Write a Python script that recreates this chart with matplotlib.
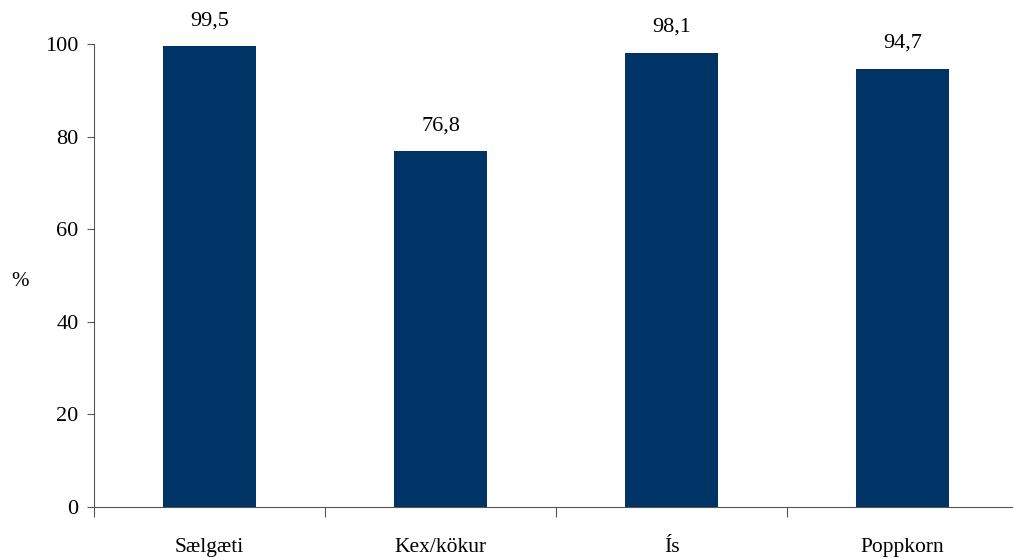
import matplotlib.pyplot as plt
from matplotlib.ticker import FixedLocator

flokkar = ["Sælgæti", "Kex/kökur", "Ís", "Poppkorn"]
hlutfall = [99.5, 76.8, 98.1, 94.7]
y_ticks = [0, 20, 40, 60, 80, 100]

plt.rcParams['font.family'] = ['Liberation Serif', 'DejaVu Serif']

fig = plt.figure(figsize=(10.13, 5.59), dpi=100)
ax = fig.add_axes([94 / 1013, 1 - 507 / 559, (1018 - 94) / 1013, (507 - 44) / 559])

x = range(len(flokkar))
bars = ax.bar(x, hlutfall, width=0.4, color='#003366', zorder=2)

for b, v in zip(bars, hlutfall):
    ax.text(b.get_x() + b.get_width() / 2, v + 3.5, f"{v:.1f}".replace('.', ','),
            ha='center', va='bottom', fontsize=16)

ax.set_xlim(-0.5, len(flokkar) - 0.5)
ax.set_ylim(0, 100)
ax.set_yticks(y_ticks)
ax.set_xticks(list(x))
ax.set_xticklabels(flokkar, fontsize=15.5)
ax.xaxis.set_minor_locator(FixedLocator([i - 0.5 for i in range(len(flokkar) + 1)]))
ax.tick_params(axis='x', which='major', length=0, pad=22)
ax.tick_params(axis='x', which='minor', length=7, width=0.8, color='#555555')
ax.tick_params(axis='y', length=5, width=0.8, color='#555555', labelsize=16, pad=6)

for s in ['top', 'right']:
    ax.spines[s].set_visible(False)
for s in ['left', 'bottom']:
    ax.spines[s].set_color('#555555')
    ax.spines[s].set_linewidth(0.8)

fig.text(20 / 1013, 1 - 282 / 559, "%", ha='center', va='center', fontsize=15)

fig.savefig("out.png", dpi=100)
